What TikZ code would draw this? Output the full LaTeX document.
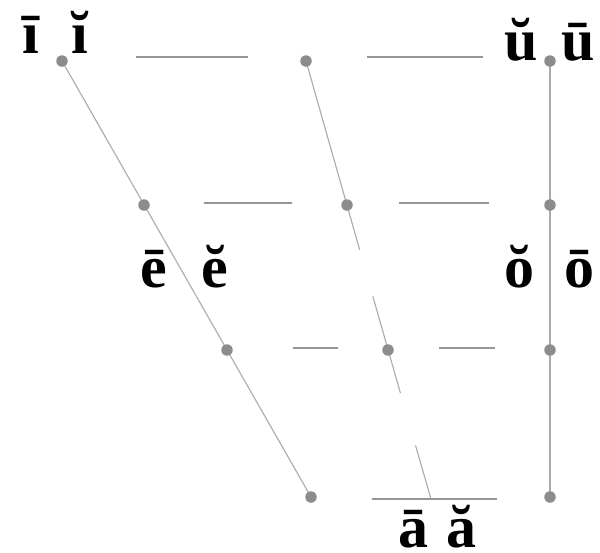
\documentclass[tikz,border=0pt]{standalone}
\usepackage{fontspec}
\setmainfont{Liberation Serif}
\usetikzlibrary{calc}
\definecolor{dotgray}{RGB}{140,140,140}
\definecolor{linegray}{RGB}{170,170,170}
\definecolor{rulegray}{RGB}{150,150,150}

\begin{document}
\begin{tikzpicture}[x=1pt,y=-1pt,
    vdot/.style={circle,fill=dotgray,inner sep=0pt,minimum size=11.5pt},
    vowel/.style={anchor=base,inner sep=0pt,font=\fontsize{60}{60}\selectfont\bfseries},
    edge/.style={draw=linegray,line width=1.1pt},
    bar/.style={draw=rulegray,line width=1.6pt}]
    \useasboundingbox (0,0) rectangle (600,552);

    % front, central and back columns
    \coordinate (f1) at (62,61);
    \coordinate (f2) at (144,205);
    \coordinate (f3) at (227,350);
    \coordinate (f4) at (311,497);
    \coordinate (c1) at (306,61);
    \coordinate (c2) at (347,205);
    \coordinate (c3) at (388,350);
    \coordinate (c4) at (431,499);
    \coordinate (b1) at (550,61);
    \coordinate (b2) at (550,205);
    \coordinate (b3) at (550,350);
    \coordinate (b4) at (550,497);

    \draw[edge] (f1) -- (f4);
    \draw[edge] (b1) -- (b4);
    \draw[edge] (c1) -- ($(c2)!0.31!(c3)$);
    \draw[edge] ($(c2)!0.63!(c3)$) -- ($(c3)!0.29!(c4)$);
    \draw[edge] ($(c3)!0.64!(c4)$) -- (c4);

    % horizontal bars
    \coordinate (h1a) at (136,57);  \coordinate (h1b) at (248,57);
    \coordinate (h1c) at (367,57);  \coordinate (h1d) at (483,57);
    \coordinate (h2a) at (204,203); \coordinate (h2b) at (292,203);
    \coordinate (h2c) at (399,203); \coordinate (h2d) at (489,203);
    \coordinate (h3a) at (293,348); \coordinate (h3b) at (338,348);
    \coordinate (h3c) at (439,348); \coordinate (h3d) at (495,348);
    \coordinate (h4a) at (372,499); \coordinate (h4b) at (497,499);

    \draw[bar] (h1a) -- (h1b);
    \draw[bar] (h1c) -- (h1d);
    \draw[bar] (h2a) -- (h2b);
    \draw[bar] (h2c) -- (h2d);
    \draw[bar] (h3a) -- (h3b);
    \draw[bar] (h3c) -- (h3d);
    \draw[bar] (h4a) -- (h4b);

    % dots
    \foreach \p in {f1,f2,f3,f4,c1,c2,c3,b1,b2,b3,b4}
        \node (d\p) at (\p) [vdot] {};

    % vowels
    \node (ilong)  at (31,53)  [vowel] {ī};
    \node (ishort) at (80,53)  [vowel] {ĭ};
    \node (ushort) at (521,60) [vowel] {ŭ};
    \node (ulong)  at (578,60) [vowel] {ū};
    \node (elong)  at (154,287) [vowel] {ē};
    \node (eshort) at (215,287) [vowel] {ĕ};
    \node (oshort) at (519,287) [vowel] {ŏ};
    \node (olong)  at (579,287) [vowel] {ō};
    \node (along)  at (413,547) [vowel] {ā};
    \node (ashort) at (461,547) [vowel] {ă};
\end{tikzpicture}
\end{document}
